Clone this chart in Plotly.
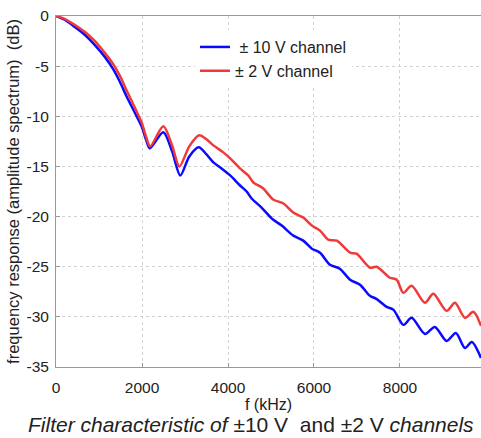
import plotly.graph_objects as go

# ---- data ----
f_blue = [0, 210, 440, 675, 905, 1140, 1330, 1490, 1640, 1840, 1990, 2100, 2180,
          2496, 2700, 2890, 3100, 3320, 3500, 3660, 3850, 4050, 4280, 4434,
          4550, 4780, 5020, 5250, 5520, 5750, 5950, 6140, 6370, 6600, 6840,
          7070, 7300, 7450, 7690, 7850, 8080, 8270, 8580, 8810, 9085, 9300,
          9510, 9670, 9884]
db_blue = [0, -0.4, -1.1, -1.9, -2.9, -4.1, -5.3, -6.6, -8.0, -9.7, -11.0, -12.4, -13.2,
           -11.6, -13.5, -15.9, -14.0, -13.1, -13.8, -14.6, -15.2, -15.9, -16.9, -17.5,
           -18.2, -19.1, -20.2, -20.9, -21.9, -22.4, -23.2, -23.6, -24.8, -25.2, -26.3,
           -26.8, -27.9, -28.2, -29.0, -29.3, -30.8, -30.1, -31.7, -31.0, -32.4, -31.6,
           -33.1, -32.5, -34.1]

f_red = [0, 210, 440, 675, 905, 1140, 1330, 1490, 1640, 1840, 1990, 2100, 2190,
         2496, 2700, 2870, 3100, 3330, 3500, 3660, 3890, 4050, 4280, 4470,
         4590, 4820, 5050, 5290, 5520, 5750, 5950, 6140, 6330, 6530, 6840,
         6990, 7300, 7457, 7767, 7922, 8078, 8271, 8581, 8775, 9085, 9279,
         9512, 9705, 9884]
db_red = [0, -0.3, -0.9, -1.6, -2.5, -3.7, -4.8, -6.0, -7.4, -9.2, -10.6, -12.1, -13.0,
          -11.0, -12.9, -15.0, -13.0, -11.9, -12.3, -12.9, -13.6, -14.2, -15.2, -15.9,
          -16.6, -17.2, -18.3, -18.7, -19.6, -20.1, -20.9, -21.4, -22.3, -22.4, -23.6,
          -23.7, -25.1, -25.0, -26.1, -26.3, -27.6, -26.9, -28.6, -27.7, -29.4, -28.6,
          -30.1, -29.5, -30.9]

series_names = ["\u00a0± 10 V channel", "± 2 V channel"]
series_colors = ["#0a0aff", "#f03a3a"]

x_tickvals = [0, 2000, 4000, 6000, 8000]
x_ticktext = ["0", "2000", "4000", "6000", "8000"]
y_tickvals = [0, -5, -10, -15, -20, -25, -30, -35]
y_ticktext = ["0", "-5", "-10", "-15", "-20", "-25", "-30", "-35"]

x_title = "f (kHz)"
y_title = "frequency response (amplitude spectrum)\u00a0\u00a0(dB)"
caption = ("<i>Filter characteristic of</i> ±10 V\u00a0 and ±2 V <i>channels</i>")

FONT = "Liberation Sans, Arial, sans-serif"
TXT = "#222222"

fig = go.Figure()
for fx, fy, name, col in [(f_blue, db_blue, series_names[0], series_colors[0]),
                          (f_red, db_red, series_names[1], series_colors[1])]:
    fig.add_trace(go.Scatter(x=fx, y=fy, mode="lines", name=name,
                             line=dict(color=col, width=2.5, shape="spline", smoothing=0.8)))

axis_common = dict(
    showgrid=True, gridcolor="#d2d2d2", griddash="dot", gridwidth=1,
    showline=True, linecolor="#999999", linewidth=1,
    ticks="inside", ticklen=4, tickcolor="#999999",
    zeroline=False,
    tickfont=dict(family=FONT, size=15.5, color=TXT),
)

fig.update_layout(
    width=481, height=438,
    margin=dict(l=56, r=0, t=16, b=71),
    paper_bgcolor="white", plot_bgcolor="white",
    font=dict(family=FONT, color=TXT),
    xaxis=dict(range=[0, 9884], tickvals=x_tickvals, ticktext=x_ticktext,
               mirror=True, ticklabelstandoff=6,
               title=dict(text=x_title, font=dict(family=FONT, size=16, color=TXT), standoff=1),
               **axis_common),
    yaxis=dict(range=[-35, 0], tickvals=y_tickvals, ticktext=y_ticktext,
               ticklabelstandoff=3,
               title=dict(text=y_title, font=dict(family=FONT, size=16.5, color=TXT), standoff=2),
               **axis_common),
    legend=dict(x=0.327, y=0.96, xanchor="left", yanchor="top",
                bgcolor="white", borderwidth=0,
                font=dict(family=FONT, size=16, color=TXT),
                itemwidth=30, tracegroupgap=0),
    showlegend=True,
)
fig.update_xaxes(automargin=False)
fig.update_yaxes(automargin=False)

fig.add_annotation(text=caption, xref="paper", yref="paper",
                   x=0.459, y=-0.2023, xanchor="center", yanchor="bottom",
                   showarrow=False,
                   font=dict(family=FONT, size=21, color=TXT))

fig.write_html("out.html")
